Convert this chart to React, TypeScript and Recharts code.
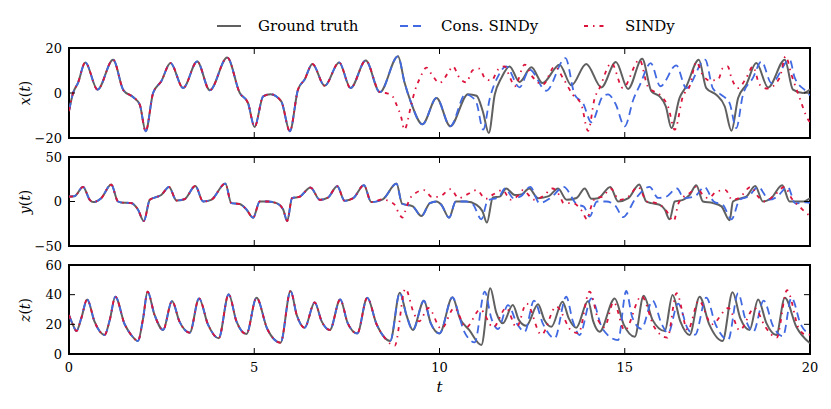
import React from 'react';
import { LineChart, Line, XAxis, YAxis, ReferenceArea, ReferenceLine } from 'recharts';

type Pt = [number, number];

const tTicks = [0, 5, 10, 15, 20];
const xTicks = [-20, 0, 20];
const yTicks = [-50, 0, 50];
const zTicks = [0, 20, 40, 60];

// x(t)
const xTruth: Pt[] = [
  [0, -8], [0.11, 0], [0.24, 4.4], [0.44, 13.6], [0.77, 1.5], [1.19, 14.8], [1.47, 1.2], [1.73, -1.8],
  [1.91, -5.2], [2.07, -17], [2.27, 0], [2.49, 5.2], [2.74, 13.3], [3.08, 2.2], [3.46, 14], [3.8, 1.2],
  [4.27, 15.8], [4.61, 0], [4.83, -4.4], [5.01, -15.1], [5.24, -1.5], [5.44, -0.5], [5.73, -3.7],
  [5.96, -17], [6.18, 1.5], [6.36, 6], [6.57, 12.9], [6.9, 3.2], [7.29, 13.6], [7.6, 2.2], [8.01, 14.4],
  [8.39, 0.4], [8.88, 16.3], [9.06, 4.4], [9.22, -3.7], [9.54, -13.9], [9.92, -2.2], [10.29, -14.8],
  [10.77, -0.5], [11.0, -1.2], [11.17, -8.2], [11.33, -17.8], [11.49, -0.8], [11.67, 6.7], [11.89, 11.8],
  [12.16, 4.9], [12.48, 11.4], [12.78, 4.4], [13.24, 12.6], [13.56, 3.4], [13.96, 12.9], [14.37, 2.5],
  [14.76, 13.8], [15.09, 1.8], [15.47, 15.2], [15.72, 0.7], [15.94, -1.5], [16.11, -6], [16.26, -15.6],
  [16.48, -2.2], [16.66, 2.9], [17.0, 14.8], [17.2, 2.2], [17.47, -0.8], [17.7, -6], [17.88, -16.8],
  [18.06, -2.2], [18.28, 3.7], [18.55, 13.3], [18.87, 2.5], [19.32, 14.8], [19.54, 1.5], [19.81, 0], [20, 1.5],
];
const xConsTail: Pt[] = [
  [10.7, -0.6], [10.85, -1.5], [11.0, -4.4], [11.18, -16.3], [11.36, -2.2], [11.58, 7.4], [11.8, 11.8],
  [12.16, 2.5], [12.43, 10.4], [12.88, 1.0], [13.4, 15.5], [13.65, -0.8], [13.87, -4.4], [14.1, -13],
  [14.41, -1.5], [14.55, -0.6], [14.75, -4.8], [15.0, -14.8], [15.23, -3], [15.42, 4], [15.7, 13.3],
  [15.96, 3], [16.39, 12.3], [16.66, 2.2], [17.17, 14.8], [17.38, 2], [17.6, -0.8], [17.83, -4.5],
  [18.01, -15.6], [18.19, -0.8], [18.46, 6.7], [18.69, 14], [18.96, 4.4], [19.45, 14.8], [19.59, 6.7],
  [19.9, 0.7], [20, -1],
];
const xSindyTail: Pt[] = [
  [8.55, 0], [8.7, -0.8], [8.84, -5.2], [8.97, -11], [9.05, -16.3], [9.24, -5], [9.33, 0.7], [9.47, 6.5],
  [9.65, 11.3], [9.8, 8], [10.0, 4.5], [10.23, 8.9], [10.36, 11.8], [10.54, 6.7], [10.72, 4.7], [10.9, 10.2],
  [11.08, 10.8], [11.22, 6.7], [11.4, 5.5], [11.58, 10.4], [11.76, 11.8], [11.9, 7], [12.03, 3], [12.3, 12.6],
  [12.5, 7.4], [12.79, 3.7], [13.11, 11.8], [13.33, 6.7], [13.6, -0.8], [13.83, -5.2], [14.01, -16.8],
  [14.19, -2.2], [14.32, 2.2], [14.64, 13.3], [14.95, 2.2], [15.4, 14.8], [15.62, 3], [15.99, -1.5],
  [16.17, -6], [16.35, -16.3], [16.57, -1.5], [16.75, 2.9], [16.93, 13.8], [17.1, 8.1], [17.3, 5.5],
  [17.52, 6], [17.65, 11.1], [17.78, 11.8], [17.88, 6.7], [18.06, 2.2], [18.28, 6.7], [18.46, 11.8],
  [18.64, 3.7], [18.85, 2.0], [19.18, 6.7], [19.34, 16.3], [19.5, 8.1], [19.72, -2.2], [19.95, -11.9], [20, -13],
];

// y(t)
const yTruth: Pt[] = [
  [0, 5.5], [0.15, 6], [0.38, 16.4], [0.56, 1.9], [0.65, -0.7], [0.87, 3.7], [1.14, 19], [1.32, 0],
  [1.4, -1], [1.68, -1.8], [1.86, -9], [2.02, -21.9], [2.18, 1.9], [2.31, 4.4], [2.49, 7.3], [2.7, 16.4],
  [2.9, 1.1], [3.12, 2.6], [3.41, 17.5], [3.62, 0], [3.84, 1.9], [4.22, 20.1], [4.38, -1.8], [4.61, -2.9],
  [4.79, -9], [4.97, -18.2], [5.15, 0], [5.37, 0], [5.6, -1.8], [5.78, -9], [5.89, -21.9], [6.02, 3.7],
  [6.23, 5.5], [6.52, 15.7], [6.77, 1.9], [6.99, 4.4], [7.24, 17.2], [7.44, 0.8], [7.67, 3.7], [7.96, 18.3],
  [8.16, -0.7], [8.47, 2.5], [8.84, 20.1], [8.99, -2.5], [9.28, -5.5], [9.51, -16.4], [9.74, -1.8],
  [9.92, 0], [10.05, -3.7], [10.26, -18.2], [10.44, 0], [10.72, 0], [11.0, -3.7], [11.16, -10.9],
  [11.28, -23.7], [11.44, 4.4], [11.63, 5.5], [11.8, 14.6], [12.03, 7.3], [12.21, 8], [12.42, 14.6],
  [12.66, 3.7], [12.95, 6], [13.2, 14.6], [13.43, 1.9], [13.7, 4], [13.92, 14.6], [14.1, 3], [14.28, 3.7],
  [14.61, 16.4], [14.82, 0], [15.1, 3.7], [15.39, 19], [15.58, 0], [15.71, -1.8], [15.94, -3.7],
  [16.08, -9], [16.21, -20], [16.35, 0], [16.57, 1.9], [16.75, 7.3], [16.93, 18.3], [17.11, 0],
  [17.38, -1.8], [17.61, -5.5], [17.83, -21.2], [17.92, 0], [18.15, 3.7], [18.28, 5.5], [18.52, 17.5],
  [18.73, 0], [18.95, 3.7], [19.25, 18.3], [19.45, 0], [19.81, 0], [20, 3.7],
];
const yConsTail: Pt[] = [
  [10.9, -3], [11.13, -20], [11.3, 1], [11.6, 5], [11.77, 14.6], [12.0, 3.7], [12.2, 6], [12.45, 16.4],
  [12.7, -1.8], [13.0, 4], [13.35, 16.4], [13.7, -3], [13.9, -6], [14.05, -17], [14.25, 0], [14.5, 0],
  [14.75, -5], [14.95, -17.5], [15.3, 3.7], [15.67, 16.4], [15.9, 4], [16.1, 5], [16.41, 14.6], [16.6, 3.7],
  [16.9, 6], [17.15, 16.4], [17.4, 0], [17.65, -4], [17.88, -20], [18.1, 2], [18.35, 6], [18.6, 16.4],
  [18.9, 2], [19.1, 5], [19.4, 16.4], [19.6, -2], [19.9, -1], [20, -1.5],
];
const ySindyTail: Pt[] = [
  [8.65, 0], [8.79, -3.7], [8.92, -14.6], [9.0, -18], [9.12, -5], [9.24, 5.5], [9.58, 12.8], [9.8, 5],
  [10.0, 5.5], [10.3, 13.9], [10.52, 3.7], [10.75, 8], [11.0, 12.8], [11.25, 3], [11.45, 8], [11.7, 12.8],
  [11.92, 2], [12.1, 6], [12.25, 12.8], [12.55, 2], [12.8, 6], [13.05, 14.6], [13.25, 6], [13.35, -1.8],
  [13.6, -2], [13.85, -11], [13.98, -20], [14.1, -5], [14.2, 3.7], [14.4, 5.5], [14.62, 14.6], [14.85, 1.9],
  [15.1, 5.5], [15.36, 16.4], [15.6, 0], [15.85, -1.8], [16.1, -9], [16.32, -21.9], [16.45, -2], [16.55, 3.7],
  [16.8, 11], [16.92, 16.4], [17.1, 8], [17.25, 3.7], [17.5, 11.7], [17.72, 12.8], [17.9, 1.9], [18.1, 4.4],
  [18.4, 16.4], [18.6, 5.5], [18.78, 0], [19.0, 5.5], [19.32, 16.4], [19.5, 3.7], [19.75, -7], [19.95, -14.6],
  [20, -16],
];

// z(t)
const zTruth: Pt[] = [
  [0, 26.3], [0.11, 19.5], [0.2, 15.5], [0.33, 24], [0.49, 36.8], [0.69, 21.8], [0.96, 12.8], [1.1, 22.9],
  [1.25, 38.6], [1.5, 20.2], [1.68, 12.8], [1.86, 8.8], [2.0, 24], [2.12, 42], [2.31, 26.3], [2.54, 16.2],
  [2.78, 35.7], [2.98, 22], [3.26, 14.4], [3.51, 37.5], [3.75, 20], [4.04, 10.6], [4.31, 40.2], [4.52, 22],
  [4.79, 13.5], [5.06, 37.9], [5.35, 17], [5.71, 7.6], [5.98, 42.5], [6.15, 26], [6.36, 17.7], [6.63, 34.8],
  [6.82, 22], [7.04, 16.2], [7.32, 36.8], [7.52, 21], [7.78, 13.9], [8.05, 37.9], [8.3, 20.2], [8.67, 8.8],
  [8.93, 41.3], [9.11, 26], [9.28, 16.2], [9.58, 35.9], [9.76, 21], [10.0, 13.9], [10.35, 38.2], [10.55, 24],
  [10.8, 16.2], [11.13, 6.1], [11.37, 44.3], [11.53, 28.1], [11.71, 20.7], [11.98, 33], [12.14, 23],
  [12.34, 19], [12.66, 33.5], [12.83, 23], [13.02, 18.4], [13.32, 35.3], [13.49, 24], [13.69, 17.7],
  [14.01, 35.7], [14.15, 22], [14.32, 15], [14.73, 37.5], [14.97, 20], [15.27, 11.7], [15.51, 39.3],
  [15.75, 23], [16.08, 15.5], [16.29, 39.8], [16.5, 22], [16.75, 12.8], [17.02, 38.6], [17.28, 20],
  [17.64, 8.8], [17.91, 41.6], [18.12, 24], [18.37, 16.2], [18.6, 36.8], [18.82, 21], [19.09, 12.8],
  [19.32, 37.9], [19.63, 18.4], [20, 7.2],
];
const zConsTail: Pt[] = [
  [10.65, 16], [10.95, 7.9], [11.22, 42], [11.4, 24], [11.58, 16.8], [11.85, 33], [12.1, 20], [12.3, 15],
  [12.55, 36], [12.8, 20], [13.11, 10.6], [13.42, 38.6], [13.6, 22], [13.78, 12.8], [14.1, 37.5], [14.4, 17],
  [14.82, 9.4], [15.04, 42.5], [15.2, 25], [15.45, 17], [15.75, 36], [16.0, 20], [16.17, 14], [16.44, 34],
  [16.7, 17], [16.9, 13], [17.2, 38], [17.45, 20], [17.79, 9.5], [18.06, 41], [18.25, 24], [18.47, 15],
  [18.75, 36], [19.0, 19], [19.27, 12], [19.5, 38], [19.75, 20], [20, 13],
];
const zSindyTail: Pt[] = [
  [8.55, 10], [8.79, 5.5], [9.08, 44], [9.3, 28], [9.45, 22], [9.7, 31], [10.05, 17], [10.4, 31], [10.72, 18],
  [11.1, 30], [11.45, 18], [11.8, 31], [12.08, 18], [12.35, 34], [12.75, 13], [13.15, 32], [13.55, 16],
  [13.75, 14], [14.05, 42], [14.3, 22], [14.45, 18], [14.7, 35], [15.0, 16], [15.45, 39], [15.8, 18],
  [16.15, 11], [16.4, 41], [16.7, 16], [17.0, 36], [17.35, 20], [17.8, 31], [18.1, 16], [18.5, 31],
  [18.8, 18], [19.1, 11], [19.38, 43], [19.7, 17], [19.9, 13], [20, 13],
];

const joinTail = (truth: Pt[], tail: Pt[]) => [...truth.filter((p) => p[0] < tail[0][0]), ...tail];
const toRows = (pts: Pt[]) => pts.map(([t, v]) => ({ t, v }));

const GRAY = '#606060';
const BLUE = '#4169e1';
const RED = '#dc143c';
const FONT = '"DejaVu Serif", serif';

const legendItems = [
  { name: 'Ground truth', color: GRAY, dash: undefined as string | undefined, x: 216 },
  { name: 'Cons. SINDy', color: BLUE, dash: '8 5', x: 399 },
  { name: 'SINDy', color: RED, dash: '4 5 1.5 5', x: 583 },
];

const minus = (v: number) => String(v).replace('-', '\u2212');

interface PanelProps {
  plotTop: number;
  plotH: number;
  domain: [number, number];
  ticks: number[];
  label: string;
  truth: Pt[];
  cons: Pt[];
  sindy: Pt[];
  showX?: boolean;
}

function Panel({ plotTop, plotH, domain, ticks, label, truth, cons, sindy, showX }: PanelProps) {
  const mTop = 10;
  const mBottom = 10;
  const xAxisH = showX ? 40 : 0;
  const height = mTop + plotH + xAxisH + mBottom;
  const span = domain[1] - domain[0];
  const vTick = (span * 6) / plotH;
  const hTick = (20 * 6) / 741;
  const inner = ticks.filter((v) => v > domain[0] && v < domain[1]);
  return (
    <div style={{ position: 'absolute', left: 0, top: plotTop - mTop }}>
      <div
        style={{
          position: 'absolute',
          left: 25,
          top: mTop + plotH / 2,
          transform: 'translate(-50%, -50%) rotate(-90deg)',
          fontFamily: FONT,
          fontSize: 14,
          whiteSpace: 'nowrap',
        }}
      >
        <i>{label}</i>(<i>t</i>)
      </div>
      <LineChart
        width={831}
        height={height}
        margin={{ top: mTop, right: 21, bottom: mBottom, left: 0 }}
        style={{ overflow: 'visible' }}
      >
        <XAxis
          type="number"
          dataKey="t"
          domain={[0, 20]}
          ticks={tTicks}
          interval={0}
          allowDataOverflow
          hide={!showX}
          height={xAxisH || undefined}
          axisLine={false}
          tickLine={false}
          tickSize={5}
          tickMargin={4}
          tick={{ fontFamily: FONT, fontSize: 13, fill: '#000' }}
          label={showX ? { value: 't', position: 'insideBottom', offset: 2, fontFamily: FONT, fontSize: 15, fontStyle: 'italic', fill: '#000' } : undefined}
        />
        <YAxis
          type="number"
          domain={domain}
          ticks={ticks}
          interval={0}
          allowDataOverflow
          width={69}
          axisLine={false}
          tickLine={false}
          tickSize={5}
          tickMargin={2}
          tickFormatter={minus}
          tick={{ fontFamily: FONT, fontSize: 13, fill: '#000' }}
        />
        <Line data={toRows(truth)} dataKey="v" type="monotone" stroke={GRAY} strokeWidth={2} dot={false} isAnimationActive={false} />
        <Line data={toRows(cons)} dataKey="v" type="monotone" stroke={BLUE} strokeWidth={1.8} strokeDasharray="8 5" dot={false} isAnimationActive={false} />
        <Line data={toRows(sindy)} dataKey="v" type="monotone" stroke={RED} strokeWidth={1.8} strokeDasharray="4 5 1.5 5" dot={false} isAnimationActive={false} />
        {[5, 10, 15].map((t) => (
          <ReferenceLine key={`b${t}`} segment={[{ x: t, y: domain[0] }, { x: t, y: domain[0] + vTick }]} stroke="#000" strokeWidth={1} />
        ))}
        {[5, 10, 15].map((t) => (
          <ReferenceLine key={`t${t}`} segment={[{ x: t, y: domain[1] }, { x: t, y: domain[1] - vTick }]} stroke="#000" strokeWidth={1} />
        ))}
        {inner.map((v) => (
          <ReferenceLine key={`l${v}`} segment={[{ x: 0, y: v }, { x: hTick, y: v }]} stroke="#000" strokeWidth={1} />
        ))}
        {inner.map((v) => (
          <ReferenceLine key={`r${v}`} segment={[{ x: 20 - hTick, y: v }, { x: 20, y: v }]} stroke="#000" strokeWidth={1} />
        ))}
        <ReferenceArea x1={0} x2={20} y1={domain[0]} y2={domain[1]} fill="none" stroke="#000" strokeWidth={2} />
      </LineChart>
    </div>
  );
}

export default function App() {
  return (
    <div style={{ position: 'absolute', left: 0, top: 0, width: 831, height: 409, background: '#fff' }}>
      {legendItems.map((it) => (
        <div key={it.name} style={{ position: 'absolute', left: it.x, top: 16, display: 'flex', alignItems: 'center', fontFamily: FONT, fontSize: 15 }}>
          <svg width={26} height={20}>
            <line x1={1} y1={10} x2={25} y2={10} stroke={it.color} strokeWidth={2} strokeDasharray={it.dash} />
          </svg>
          <span style={{ marginLeft: 16 }}>{it.name}</span>
        </div>
      ))}
      <Panel plotTop={48} plotH={90} domain={[-20, 20]} ticks={xTicks} label="x"
        truth={xTruth} cons={joinTail(xTruth, xConsTail)} sindy={joinTail(xTruth, xSindyTail)} />
      <Panel plotTop={157} plotH={89} domain={[-50, 50]} ticks={yTicks} label="y"
        truth={yTruth} cons={joinTail(yTruth, yConsTail)} sindy={joinTail(yTruth, ySindyTail)} />
      <Panel plotTop={265} plotH={89} domain={[0, 60]} ticks={zTicks} label="z"
        truth={zTruth} cons={joinTail(zTruth, zConsTail)} sindy={joinTail(zTruth, zSindyTail)} showX />
    </div>
  );
}
